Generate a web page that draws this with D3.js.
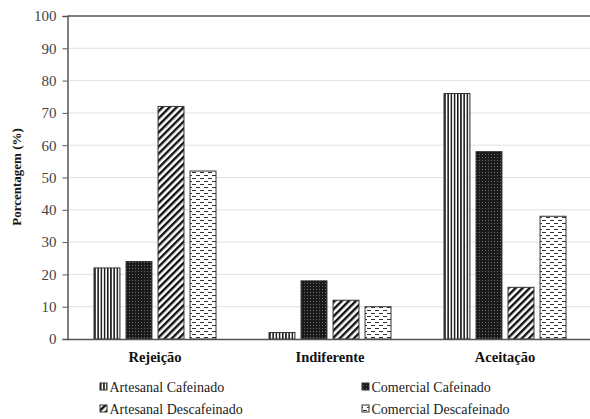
<!DOCTYPE html>
<html><head><meta charset="utf-8">
<script src="https://cdn.jsdelivr.net/npm/d3@7"></script>
<style>body{margin:0;background:#fff}svg{display:block}</style>
</head><body>
<svg id="c" width="590" height="419" font-family="Liberation Serif"></svg>
<script>
const categories = ["Rejeição", "Indiferente", "Aceitação"];
const seriesNames = ["Artesanal Cafeinado", "Comercial Cafeinado", "Artesanal Descafeinado", "Comercial Descafeinado"];
const artesanalCafeinado = [22, 2, 76];
const comercialCafeinado = [24, 18, 58];
const artesanalDescafeinado = [72, 12, 16];
const comercialDescafeinado = [52, 10, 38];
const yTicks = [0, 10, 20, 30, 40, 50, 60, 70, 80, 90, 100];
const yTitle = "Porcentagem (%)";

const FONT = "Liberation Serif";
const seriesValues = [artesanalCafeinado, comercialCafeinado, artesanalDescafeinado, comercialDescafeinado];
const svg = d3.select("#c");
const m = {left: 67.5, top: 16, bottom: 339, right: 592.5};

const defs = svg.append("defs");
const p0 = defs.append("pattern").attr("id","p0").attr("patternUnits","userSpaceOnUse").attr("width",3.2).attr("height",4);
p0.append("rect").attr("width",3.2).attr("height",4).attr("fill","#fff");
p0.append("rect").attr("x",0).attr("width",1.5).attr("height",4).attr("fill","#111");
const p1 = defs.append("pattern").attr("id","p1").attr("patternUnits","userSpaceOnUse").attr("width",3).attr("height",3);
p1.append("rect").attr("width",3).attr("height",3).attr("fill","#1a1a1a");
p1.append("rect").attr("x",1).attr("y",1).attr("width",1).attr("height",1).attr("fill","#6a6a6a");
const p2 = defs.append("pattern").attr("id","p2").attr("patternUnits","userSpaceOnUse").attr("width",5).attr("height",5).attr("patternTransform","rotate(45)");
p2.append("rect").attr("width",5).attr("height",5).attr("fill","#fff");
p2.append("rect").attr("x",0).attr("width",2.4).attr("height",5).attr("fill","#111");
const p3 = defs.append("pattern").attr("id","p3").attr("patternUnits","userSpaceOnUse").attr("width",8).attr("height",6);
p3.append("rect").attr("width",8).attr("height",6).attr("fill","#fff");
p3.append("rect").attr("x",1).attr("y",1).attr("width",4).attr("height",1).attr("fill","#333");
p3.append("rect").attr("x",5).attr("y",4).attr("width",4).attr("height",1).attr("fill","#333");
p3.append("rect").attr("x",-3).attr("y",4).attr("width",4).attr("height",1).attr("fill","#333");
const fills = ["url(#p0)","url(#p1)","url(#p2)","url(#p3)"];

const y = d3.scaleLinear().domain([0,100]).range([m.bottom, m.top]);
const x0 = d3.scaleBand().domain(categories).range([m.left, m.right]).paddingInner(0).paddingOuter(0);
const x1 = d3.scaleBand().domain(d3.range(4)).range([-61, 61]).paddingInner(0.19).paddingOuter(0);

svg.append("g").selectAll("line").data(yTicks.filter(t=>t>0 && t<100)).join("line")
  .attr("x1", m.left).attr("x2", 590).attr("y1", d=>y(d)).attr("y2", d=>y(d))
  .attr("stroke","#e2e2e2").attr("stroke-width",1);
svg.append("line").attr("x1",m.left).attr("x2",590).attr("y1",y(100)).attr("y2",y(100)).attr("stroke","#555").attr("stroke-width",1.5);

const groups = svg.append("g").selectAll("g").data(categories).join("g")
  .attr("transform", d => `translate(${x0(d) + x0.bandwidth()/2},0)`);
groups.selectAll("rect").data((c,i) => seriesValues.map((s,j)=>({j, v:s[i]}))).join("rect")
  .attr("x", d => x1(d.j)).attr("width", x1.bandwidth())
  .attr("y", d => y(d.v)).attr("height", d => y(0)-y(d.v))
  .attr("fill", d => fills[d.j]).attr("stroke","#333").attr("stroke-width",1);

const yAxis = d3.axisLeft(y).tickValues(yTicks).tickSize(5).tickPadding(6);
const ya = svg.append("g").attr("transform",`translate(${m.left},0)`).call(yAxis);
ya.attr("font-family",FONT);
ya.select(".domain").attr("stroke","#555").attr("stroke-width",1.5);
ya.selectAll(".tick line").attr("stroke","#555");
ya.selectAll("text").attr("font-family",FONT).attr("font-size",15).attr("fill","#444");

const xAxis = d3.axisBottom(x0).tickSize(0).tickPadding(13);
const xa = svg.append("g").attr("transform",`translate(0,${m.bottom})`).call(xAxis);
xa.attr("font-family",FONT);
xa.select(".domain").attr("stroke","#555").attr("stroke-width",1.5);
xa.selectAll("text").attr("font-family",FONT).attr("font-size",14.5).attr("font-weight","bold").attr("fill","#111");

svg.append("text").attr("transform","translate(21,177) rotate(-90)").attr("text-anchor","middle")
  .attr("font-family",FONT).attr("font-size",13).attr("font-weight","bold").attr("fill","#111").text(yTitle);

const legPos = [[100,387],[362,387],[100,409],[362,409]];
const lg = svg.append("g").selectAll("g").data(seriesNames).join("g")
  .attr("transform",(d,i)=>`translate(${legPos[i][0]},${legPos[i][1]})`);
lg.append("rect").attr("x",0).attr("y",-4).attr("width",7).attr("height",7)
  .attr("fill",(d,i)=>fills[i]).attr("stroke","#333").attr("stroke-width",1);
lg.append("text").attr("x",9.5).attr("y",5).attr("font-family",FONT).attr("font-size",14).attr("fill","#222").text(d=>d);
</script>
</body></html>
